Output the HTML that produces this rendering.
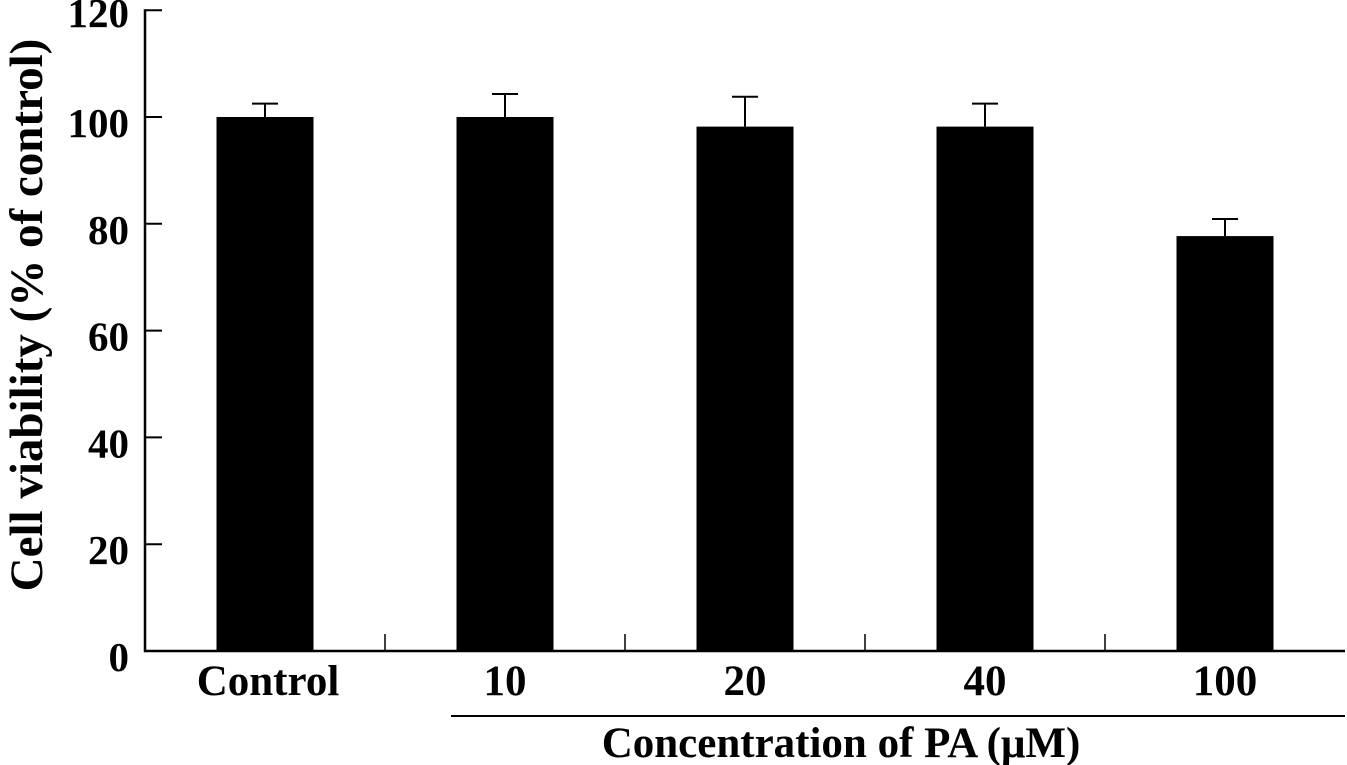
<!DOCTYPE html>
<html><head><meta charset="utf-8"><style>
html,body{margin:0;padding:0;background:#fff;}
svg{display:block;}
text{font-family:"Liberation Serif",serif;font-weight:bold;fill:#000;}
</style></head><body>
<svg id="chart" width="1347" height="765">
<g id="axes"></g><g id="bars"></g>
</svg>
<script>
const categories=["Control","10","20","40","100"];
const values=[100,100,98.2,98.2,77.7];
const errors=[2.5,4.3,5.6,4.3,3.2];
const yTicks=[0,20,40,60,80,100,120];
const NS="http://www.w3.org/2000/svg";
const svg=document.getElementById('chart');
const x0=145,x1=1345,y0=651,unit=5.34;
const catW=(x1-x0)/categories.length;
const y=v=>y0-v*unit;
const cx=i=>x0+catW*(i+0.5);
function mk(tag,attrs,parent,txt){const e=document.createElementNS(NS,tag);for(const k in attrs)e.setAttribute(k,attrs[k]);if(txt!==undefined)e.textContent=txt;(parent||svg).appendChild(e);return e;}
const ax=document.getElementById('axes'),bg=document.getElementById('bars');
let e=mk('line',{x1:x0,y1:y(120)-1,x2:x0,y2:y0+1,stroke:'#000','stroke-width':2.5},ax);


e=mk('line',{x1:x0-1,y1:y0,x2:x1,y2:y0,stroke:'#000','stroke-width':2.5},ax);


yTicks.forEach(t=>{
 let l=mk('line',{x1:x0,y1:y(t),x2:x0+17,y2:y(t),stroke:'#000','stroke-width':2},ax);
 
 
 let tx=mk('text',{x:129,y:y(t)+(t===120?17:20),'text-anchor':'end','font-size':41},ax,String(t));
 
 
});
for(let i=1;i<categories.length;i++){
 let l=mk('line',{x1:x0+catW*i,y1:y0,x2:x0+catW*i,y2:y0-17,stroke:'#000','stroke-width':1.5},ax);
 
 
}
categories.forEach((c,i)=>{
 const bw=97,c0=cx(i);
 let er=mk('line',{x1:c0,y1:y(values[i]),x2:c0,y2:y(values[i]+errors[i]),stroke:'#000','stroke-width':2},bg);
 
 
 let cap=mk('line',{x1:c0-13,y1:y(values[i]+errors[i]),x2:c0+13,y2:y(values[i]+errors[i]),stroke:'#000','stroke-width':2},bg);
 
 
 let r=mk('rect',{x:c0-bw/2,y:y(values[i]),width:bw,height:y0-y(values[i]),fill:'#000'},bg);
 
 
 let t=mk('text',{x:c0+(i===0?3:0),y:695,'text-anchor':'middle','font-size':43},ax,c);
 
 
});
e=mk('line',{x1:451,y1:716,x2:1345,y2:716,stroke:'#000','stroke-width':2},ax);


e=mk('text',{x:841,y:757,'text-anchor':'middle','font-size':43},ax,'Concentration of PA (μM)');


e=mk('text',{x:0,y:0,'text-anchor':'middle','font-size':47,transform:'translate(42,315) rotate(-90)'},ax,'Cell viability (% of control)');


</script>
</body></html>
